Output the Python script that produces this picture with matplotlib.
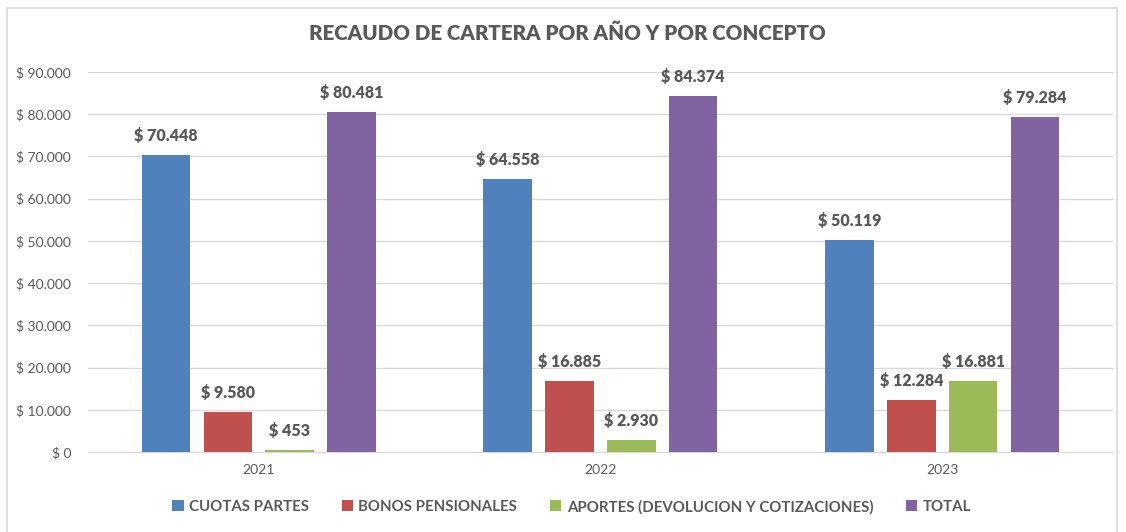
# recaudo de cartera chart, excel style clustered bars

import numpy as np
import matplotlib.pyplot as plt
from matplotlib.patches import Rectangle

plt.rcParams['font.family'] = ['Lato', 'DejaVu Sans']

years = ["2021", "2022", "2023"]
series_names = ["CUOTAS PARTES", "BONOS PENSIONALES",
                "APORTES (DEVOLUCION Y COTIZACIONES)", "TOTAL"]
cuotas_partes = [70448, 64558, 50119]
bonos_pensionales = [9580, 16885, 12284]
aportes = [453, 2930, 16881]
total = [80481, 84374, 79284]

colors = ["#4F81BD", "#C0504D", "#9BBB59", "#8064A2"]
TEXT = "#595959"
GRID = "#D9D9D9"

def money(v):
    return "$ " + "{:,}".format(int(v)).replace(",", ".")

fig = plt.figure(figsize=(11.26, 5.32), dpi=100)
ax = fig.add_axes([0.078, 0.1504, 0.9105, 0.7143])

# chart border
fig.patches.append(Rectangle((0.006, -0.02), 0.986, 1.005, transform=fig.transFigure,
                             fill=False, edgecolor="#D9D9D9", linewidth=1.2))

x = np.arange(len(years))
width = 0.142
step = 0.181
all_series = [cuotas_partes, bonos_pensionales, aportes, total]

for i, vals in enumerate(all_series):
    pos = x + (i - 1.5) * step
    bars = ax.bar(pos, vals, width, color=colors[i], label=series_names[i], zorder=3)
    for b, v in zip(bars, vals):
        ax.text(b.get_x() + b.get_width() / 2, v + 2600, money(v),
                ha="center", va="bottom", fontsize=11.5, fontweight="heavy", color=TEXT)

ax.set_xlim(-0.5, 2.5)
ax.set_ylim(0, 90000)
ax.set_yticks(np.arange(0, 90001, 10000))
ax.set_yticklabels([money(v) for v in np.arange(0, 90001, 10000)])
ax.set_xticks(x)
ax.set_xticklabels(years)
ax.tick_params(axis="both", length=0, colors=TEXT, labelsize=10)
ax.tick_params(axis="y", pad=12)
ax.tick_params(axis="x", pad=9)
ax.grid(axis="y", color=GRID, linewidth=1, zorder=0)
for s in ["top", "right", "left"]:
    ax.spines[s].set_visible(False)
ax.spines["bottom"].set_color(GRID)

fig.suptitle("RECAUDO DE CARTERA POR AÑO Y POR CONCEPTO", x=0.504, y=0.955,
             fontsize=14.8, fontweight="heavy", color=TEXT)

leg = ax.legend(loc="upper center", bbox_to_anchor=(0.472, -0.09), ncol=4, frameon=False,
                handlelength=0.75, handleheight=0.75, handletextpad=0.35, columnspacing=2.2,
                prop={"size": 10.8, "weight": "bold"})
for t in leg.get_texts():
    t.set_color(TEXT)

fig.savefig("out.png", dpi=100)
